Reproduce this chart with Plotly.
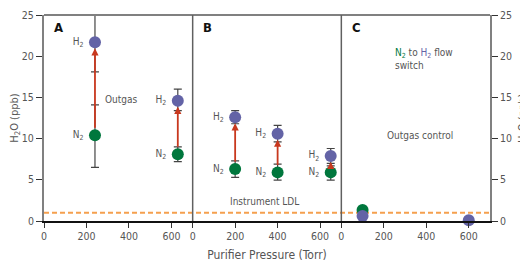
import plotly.graph_objects as go

# ---------------- data ----------------
ticks_x = [0, 200, 400, 600]
ticks_y = [0, 5, 10, 15, 20, 25]

panel_a_pressure = [240, 630]
panel_a_n2 = [10.4, 8.1]
panel_a_n2_plus = [3.7, 0.9]
panel_a_n2_minus = [3.9, 0.9]
panel_a_h2 = [21.7, 14.6]
panel_a_h2_plus = [3.3, 1.4]
panel_a_h2_minus = [3.6, 1.2]

panel_b_pressure = [200, 400, 650]
panel_b_n2 = [6.3, 5.9, 5.9]
panel_b_n2_plus = [1.0, 1.0, 0.8]
panel_b_n2_minus = [1.0, 0.95, 0.95]
panel_b_h2 = [12.6, 10.6, 7.9]
panel_b_h2_plus = [0.8, 1.0, 0.9]
panel_b_h2_minus = [0.8, 1.0, 0.9]

panel_c_n2_pressure = [100]
panel_c_n2 = [1.35]
panel_c_h2_pressure = [100, 600]
panel_c_h2 = [0.6, 0.1]

ldl = 1.0

# ---------------- style ----------------
FONT = "DejaVu Sans Condensed, Liberation Sans Narrow, Roboto, sans-serif"
GRAY = "#555555"
N2_C = "#00773d"
H2_C = "#6363a6"
RED = "#c8381e"
ERR_C = "#444444"

fig = go.Figure()


def add_pts(xref, xs, ys, plus, minus, color, label):
    kw = {}
    if plus is not None:
        kw["error_y"] = dict(type="data", symmetric=False, array=plus, arrayminus=minus,
                             color=ERR_C, thickness=1.2, width=4)
    fig.add_trace(go.Scatter(
        x=xs, y=ys, xaxis=xref, yaxis="y", mode="markers",
        marker=dict(size=12, color=color, line=dict(width=0)),
        cliponaxis=False, showlegend=False, hoverinfo="skip", **kw))
    if label:
        fig.add_trace(go.Scatter(
            x=xs, y=ys, xaxis=xref, yaxis="y", mode="text",
            text=[label] * len(xs), textposition="middle left",
            textfont=dict(family=FONT, size=10, color=GRAY),
            cliponaxis=False, showlegend=False, hoverinfo="skip"))


H2L = "H<sub>2</sub>    "
N2L = "N<sub>2</sub>    "

add_pts("x", panel_a_pressure, panel_a_n2, panel_a_n2_plus, panel_a_n2_minus, N2_C, N2L)
add_pts("x", panel_a_pressure, panel_a_h2, panel_a_h2_plus, panel_a_h2_minus, H2_C, H2L)
add_pts("x2", panel_b_pressure, panel_b_n2, panel_b_n2_plus, panel_b_n2_minus, N2_C, N2L)
add_pts("x2", panel_b_pressure, panel_b_h2, panel_b_h2_plus, panel_b_h2_minus, H2_C, H2L)
add_pts("x3", panel_c_n2_pressure, panel_c_n2, None, None, N2_C, None)
add_pts("x3", panel_c_h2_pressure, panel_c_h2, None, None, H2_C, None)

annotations = []
# arrows N2 -> H2
for xr, xs, n2, h2 in [("x", panel_a_pressure, panel_a_n2, panel_a_h2),
                       ("x2", panel_b_pressure, panel_b_n2, panel_b_h2)]:
    for xv, a, b in zip(xs, n2, h2):
        annotations.append(dict(
            x=xv, y=b, ax=xv, ay=a, xref=xr, yref="y", axref=xr, ayref="y",
            showarrow=True, arrowhead=2, arrowsize=0.8, arrowwidth=1.8, arrowcolor=RED,
            standoff=6, startstandoff=6, text=""))

txt = dict(family=FONT, size=10, color=GRAY)
annotations += [
    dict(x=277, y=14.8, xref="x", yref="y", text="Outgas", showarrow=False,
         xanchor="left", font=txt),
    dict(x=339, y=2.35, xref="x2", yref="y", text="Instrument LDL", showarrow=False,
         xanchor="center", font=txt),
    dict(x=369, y=10.4, xref="x3", yref="y", text="Outgas control", showarrow=False,
         xanchor="center", font=txt),
    dict(x=244, y=19.7, xref="x3", yref="y", align="left", xanchor="left", showarrow=False,
         text=(f"<span style='color:{N2_C}'>N<sub>2</sub></span> to "
               f"<span style='color:{H2_C}'>H<sub>2</sub></span> flow<br>switch"),
         font=txt),
]
for lab, xr in [("A", "x domain"), ("B", "x2 domain"), ("C", "x3 domain")]:
    annotations.append(dict(x=0.10, y=0.937, xref=xr, yref="paper", text=f"<b>{lab}</b>",
                            showarrow=False, xanchor="center", yanchor="middle",
                            font=dict(family=FONT, size=13, color="#111111")))
# right axis title
annotations.append(dict(x=1, y=0.5, xref="paper", yref="paper", xshift=33, textangle=-90,
                        text="H<sub>2</sub>O (ppb)", showarrow=False, xanchor="center",
                        yanchor="middle", font=dict(family=FONT, size=11, color=GRAY)))

shapes = [
    dict(type="line", xref="paper", yref="y", x0=0, x1=1, y0=ldl, y1=ldl, layer="below",
         line=dict(color="#f5a04e", width=2, dash="5px,3px")),
    dict(type="line", xref="paper", yref="paper", x0=0, x1=1, y0=1, y1=1,
         line=dict(color="#808080", width=2)),
    dict(type="line", xref="paper", yref="paper", x0=1/3, x1=1/3, y0=0, y1=1,
         line=dict(color="#606060", width=1.5)),
    dict(type="line", xref="paper", yref="paper", x0=2/3, x1=2/3, y0=0, y1=1,
         line=dict(color="#606060", width=1.5)),
]

xcommon = dict(range=[0, 700], tickvals=ticks_x, ticks="outside", ticklen=5, tickwidth=1,
               tickcolor="#333333", showline=True, linecolor="#111111", linewidth=1.5,
               showgrid=False, zeroline=False, anchor="y", automargin=False,
               tickfont=dict(family=FONT, size=10.5, color=GRAY))
ycommon = dict(range=[0, 25], tickvals=ticks_y, ticks="outside", ticklen=6, tickwidth=1,
               tickcolor="#333333", showline=True, linecolor="#808080", linewidth=2,
               showgrid=False, zeroline=False, automargin=False,
               tickfont=dict(family=FONT, size=10.5, color=GRAY))

# page body has an 8px margin, so the figure is 8px smaller and offset
fig.update_layout(
    width=520, height=254,
    margin=dict(l=36, r=38, t=7, b=41),
    paper_bgcolor="white", plot_bgcolor="white",
    xaxis=dict(domain=[0, 1/3], **xcommon),
    xaxis2=dict(domain=[1/3, 2/3], title=dict(text="Purifier Pressure (Torr)", standoff=10,
                font=dict(family=FONT, size=12, color=GRAY)), **xcommon),
    xaxis3=dict(domain=[2/3, 1], **xcommon),
    yaxis=dict(anchor="x", side="left",
               title=dict(text="H<sub>2</sub>O (ppb)", standoff=4,
                          font=dict(family=FONT, size=11, color=GRAY)), **ycommon),
    yaxis2=dict(anchor="x3", side="right", overlaying="y", **ycommon),
    annotations=annotations, shapes=shapes,
)
# dummy trace to activate right axis
fig.add_trace(go.Scatter(x=[None], y=[None], xaxis="x3", yaxis="y2", showlegend=False))

fig.write_html("out.html")
